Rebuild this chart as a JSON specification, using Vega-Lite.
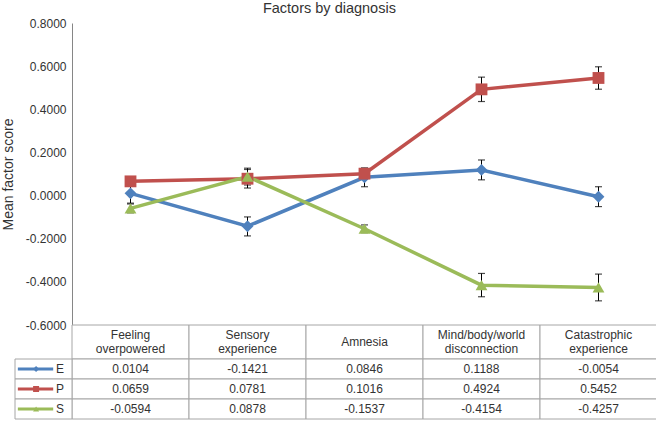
{
  "$schema": "https://vega.github.io/schema/vega-lite/v6.json",
  "padding": {"left": 1, "top": 0, "right": 0, "bottom": 0},
  "background": "white",
  "title": {"text": "Factors by diagnosis", "fontSize": 14.5, "fontWeight": "normal", "color": "#333333", "anchor": "middle", "offset": 1},
  "datasets": {
    "main": [
      {"cat": "Feeling overpowered", "series": "E", "mean": 0.0104, "lo": -0.035, "hi": 0.055},
      {"cat": "Sensory experience", "series": "E", "mean": -0.1421, "lo": -0.187, "hi": -0.099},
      {"cat": "Amnesia", "series": "E", "mean": 0.0846, "lo": 0.041, "hi": 0.128},
      {"cat": "Mind/body/world disconnection", "series": "E", "mean": 0.1188, "lo": 0.073, "hi": 0.165},
      {"cat": "Catastrophic experience", "series": "E", "mean": -0.0054, "lo": -0.051, "hi": 0.041},
      {"cat": "Feeling overpowered", "series": "P", "mean": 0.0659, "lo": 0.051, "hi": 0.081},
      {"cat": "Sensory experience", "series": "P", "mean": 0.0781, "lo": 0.035, "hi": 0.121},
      {"cat": "Amnesia", "series": "P", "mean": 0.1016, "lo": 0.077, "hi": 0.126},
      {"cat": "Mind/body/world disconnection", "series": "P", "mean": 0.4924, "lo": 0.436, "hi": 0.549},
      {"cat": "Catastrophic experience", "series": "P", "mean": 0.5452, "lo": 0.493, "hi": 0.597},
      {"cat": "Feeling overpowered", "series": "S", "mean": -0.0594, "lo": -0.080, "hi": -0.039},
      {"cat": "Sensory experience", "series": "S", "mean": 0.0878, "lo": 0.049, "hi": 0.127},
      {"cat": "Amnesia", "series": "S", "mean": -0.1537, "lo": -0.172, "hi": -0.136},
      {"cat": "Mind/body/world disconnection", "series": "S", "mean": -0.4154, "lo": -0.469, "hi": -0.361},
      {"cat": "Catastrophic experience", "series": "S", "mean": -0.4257, "lo": -0.488, "hi": -0.364}
    ],
    "cats": [
      {"cat": "Feeling overpowered", "line1": "Feeling", "line2": "overpowered"},
      {"cat": "Sensory experience", "line1": "Sensory", "line2": "experience"},
      {"cat": "Amnesia", "line1": "Amnesia", "line2": ""},
      {"cat": "Mind/body/world disconnection", "line1": "Mind/body/world", "line2": "disconnection"},
      {"cat": "Catastrophic experience", "line1": "Catastrophic", "line2": "experience"}
    ],
    "series": [
      {"series": "E"},
      {"series": "P"},
      {"series": "S"}
    ]
  },
  "spacing": 0,
  "bounds": "flush",
  "vconcat": [
    {
      "width": 585,
      "height": 302,
      "data": {"name": "main"},
      "encoding": {
        "x": {"field": "cat", "type": "nominal", "sort": null,
              "scale": {"type": "point", "domain": ["Feeling overpowered", "Sensory experience", "Amnesia", "Mind/body/world disconnection", "Catastrophic experience"], "padding": 0.5},
              "axis": null}
      },
      "layer": [
        {
          "mark": {"type": "line", "strokeWidth": 3.5},
          "encoding": {
            "y": {"field": "mean", "type": "quantitative",
                  "scale": {"domain": [-0.6, 0.8], "nice": false, "zero": false},
                  "axis": {"title": "Mean factor score", "titleFontSize": 14, "titleFontWeight": "normal", "titleColor": "#333333", "titlePadding": 10,
                           "values": [-0.6, -0.4, -0.2, 0, 0.2, 0.4, 0.6, 0.8], "format": ".4f",
                           "labelFontSize": 12, "labelColor": "#333333", "labelPadding": 6, "ticks": false, "grid": false,
                           "domainColor": "#868686", "domainWidth": 1}},
            "color": {"field": "series", "type": "nominal", "scale": {"domain": ["E", "P", "S"], "range": ["#4F81BD", "#C0504D", "#9BBB59"]}, "legend": null}
          }
        },
        {
          "mark": {"type": "rule", "color": "black", "strokeWidth": 1},
          "encoding": {
            "y": {"field": "lo", "type": "quantitative"},
            "y2": {"field": "hi"}
          }
        },
        {
          "mark": {"type": "tick", "color": "black", "thickness": 1.2, "size": 7},
          "encoding": {"y": {"field": "lo", "type": "quantitative"}}
        },
        {
          "mark": {"type": "tick", "color": "black", "thickness": 1.2, "size": 7},
          "encoding": {"y": {"field": "hi", "type": "quantitative"}}
        },
        {
          "mark": {"type": "point", "filled": true, "opacity": 1, "size": 140},
          "encoding": {
            "y": {"field": "mean", "type": "quantitative"},
            "color": {"field": "series", "type": "nominal", "legend": null},
            "shape": {"field": "series", "type": "nominal", "scale": {"domain": ["E", "P", "S"], "range": ["diamond", "square", "triangle-up"]}, "legend": null}
          }
        }
      ]
    },
    {
      "width": 585,
      "height": 34,
      "data": {"name": "cats"},
      "encoding": {
        "x": {"field": "cat", "type": "nominal", "sort": null,
              "scale": {"domain": ["Feeling overpowered", "Sensory experience", "Amnesia", "Mind/body/world disconnection", "Catastrophic experience"], "paddingInner": 0, "paddingOuter": 0},
              "axis": null}
      },
      "layer": [
        {"mark": {"type": "rect", "fill": "white", "stroke": "#a6a6a6", "strokeWidth": 1}},
        {"transform": [{"filter": "datum.line2 != ''"}],
         "mark": {"type": "text", "fontSize": 12, "color": "#333333", "baseline": "middle", "dy": -7},
         "encoding": {"text": {"field": "line1"}}},
        {"transform": [{"filter": "datum.line2 != ''"}],
         "mark": {"type": "text", "fontSize": 12, "color": "#333333", "baseline": "middle", "dy": 7},
         "encoding": {"text": {"field": "line2"}}},
        {"transform": [{"filter": "datum.line2 == ''"}],
         "mark": {"type": "text", "fontSize": 12, "color": "#333333", "baseline": "middle"},
         "encoding": {"text": {"field": "line1"}}}
      ]
    },
    {
      "width": 585,
      "height": 60,
      "data": {"name": "main"},
      "encoding": {
        "y": {"field": "series", "type": "nominal", "scale": {"domain": ["E", "P", "S"], "paddingInner": 0, "paddingOuter": 0}, "axis": null}
      },
      "layer": [
        {"mark": {"type": "rect", "fill": "white", "stroke": "#a6a6a6", "strokeWidth": 1},
         "encoding": {"x": {"field": "cat", "type": "nominal", "sort": null,
              "scale": {"domain": ["Feeling overpowered", "Sensory experience", "Amnesia", "Mind/body/world disconnection", "Catastrophic experience"], "paddingInner": 0, "paddingOuter": 0},
              "axis": null}}},
        {"mark": {"type": "text", "fontSize": 12, "color": "#333333"},
         "encoding": {"x": {"field": "cat", "type": "nominal", "sort": null,
              "scale": {"domain": ["Feeling overpowered", "Sensory experience", "Amnesia", "Mind/body/world disconnection", "Catastrophic experience"], "paddingInner": 0, "paddingOuter": 0},
              "axis": null},
              "text": {"field": "mean", "type": "quantitative", "format": ".4f"}}},
        {"data": {"name": "series"},
         "mark": {"type": "rect", "fill": "white", "stroke": "#a6a6a6", "strokeWidth": 1},
         "encoding": {"x": {"datum": 0, "type": "quantitative", "scale": {"domain": [0, 1], "range": [-57, 0]}, "axis": null},
                      "x2": {"datum": 1}}},
        {"data": {"name": "series"},
         "mark": {"type": "rule", "strokeWidth": 3},
         "encoding": {"x": {"datum": 0.05, "type": "quantitative", "scale": {"domain": [0, 1], "range": [-57, 0]}, "axis": null},
                      "x2": {"datum": 0.67},
                      "color": {"field": "series", "type": "nominal", "legend": null}}},
        {"data": {"name": "series"},
         "mark": {"type": "point", "filled": true, "opacity": 1, "size": 36},
         "encoding": {"x": {"datum": 0.37, "type": "quantitative", "scale": {"domain": [0, 1], "range": [-57, 0]}, "axis": null},
                      "color": {"field": "series", "type": "nominal", "legend": null},
                      "shape": {"field": "series", "type": "nominal", "legend": null}}},
        {"data": {"name": "series"},
         "mark": {"type": "text", "fontSize": 12, "color": "#333333"},
         "encoding": {"x": {"datum": 0.79, "type": "quantitative", "scale": {"domain": [0, 1], "range": [-57, 0]}, "axis": null},
                      "text": {"field": "series"}}}
      ],
      "resolve": {"scale": {"x": "independent"}}
    }
  ],
  "config": {
    "font": "Liberation Sans",
    "view": {"stroke": null},
    "locale": {"number": {"decimal": ".", "thousands": ",", "grouping": [3], "currency": ["$", ""], "minus": "-"}}
  }
}
